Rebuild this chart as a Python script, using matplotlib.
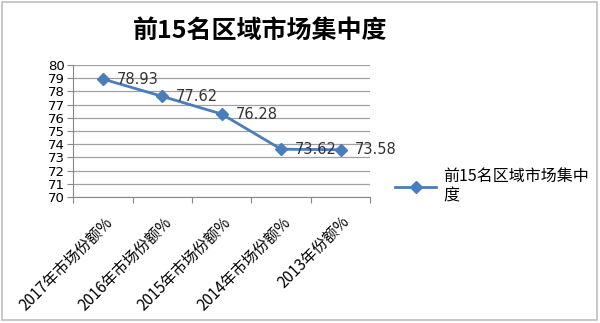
import matplotlib.pyplot as plt
import matplotlib.transforms as mtransforms
from matplotlib.patches import Rectangle

plt.rcParams['font.family'] = ['Noto Sans CJK SC', 'DejaVu Sans']

categories = ["2017年市场份额%", "2016年市场份额%", "2015年市场份额%",
              "2014年市场份额%", "2013年份额%"]
values = [78.93, 77.62, 76.28, 73.62, 73.58]
series_name = "前15名区域市场集中度"
line_color = "#4a7ebb"

fig = plt.figure(figsize=(6.0, 3.23), dpi=100)
fig.patches.append(Rectangle((0.003, 0.01), 0.992, 0.985, transform=fig.transFigure,
                             fill=False, edgecolor="#bfbfbf", linewidth=1.2))

ax = fig.add_axes([0.122, 0.39, 0.495, 0.409])
x = [i + 0.5 for i in range(len(values))]
ax.plot(x, values, color=line_color, marker="D", markersize=6, linewidth=2,
        label=series_name)
for xi, v in zip(x, values):
    ax.annotate(f"{v:.2f}", (xi, v), xytext=(10, 0), textcoords="offset points",
                ha="left", va="center", fontsize=10.5, color="#333333",
                family=["DejaVu Sans"])

ax.set_xlim(0, len(values))
ax.set_ylim(70, 80)
ax.set_yticks(range(70, 81))
ax.set_yticklabels([str(t) for t in range(70, 81)], family=["DejaVu Sans"])
ax.tick_params(axis="y", labelsize=9.5, length=4, color="#888888", pad=2)
ax.set_xticks(range(len(values) + 1))
ax.set_xticklabels([])
ax.set_xticks(x, minor=True)
ax.set_xticklabels(categories, minor=True, rotation=45, ha="right",
                   rotation_mode="anchor", fontsize=11)
ax.tick_params(axis="x", which="major", length=4, color="#888888")
ax.tick_params(axis="x", which="minor", length=0, pad=12)
ax.grid(axis="y", color="#a0a0a0", linewidth=0.9)
ax.set_axisbelow(True)
for s in ["top", "right"]:
    ax.spines[s].set_visible(False)
ax.spines["left"].set_color("#888888")
ax.spines["bottom"].set_color("#888888")

offset = mtransforms.ScaledTranslation(1 / 100, 0, fig.dpi_scale_trans)
for lbl in ax.get_xticklabels(minor=True):
    lbl.set_transform(lbl.get_transform() + offset)

fig.text(0.433, 0.905, series_name, ha="center", va="center", fontsize=18,
         fontweight="bold")

ax.legend(loc="center left", bbox_to_anchor=(1.035, 0.08), frameon=False,
          fontsize=11.5, handlelength=2.6, handletextpad=0.4)
leg = ax.get_legend()
leg.get_texts()[0].set_text("前15名区域市场集中\n度")

fig.savefig("out.png", dpi=100)
